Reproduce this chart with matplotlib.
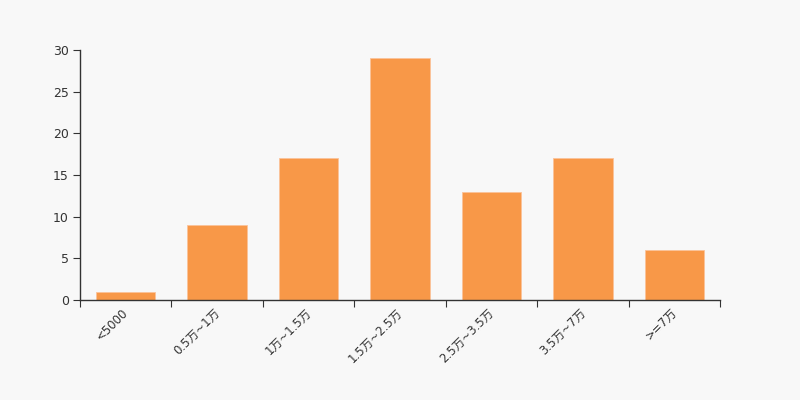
import matplotlib
matplotlib.use("Agg")
import matplotlib.pyplot as plt
import matplotlib.transforms as mtransforms
import numpy as np

plt.rcParams['font.family'] = ['DejaVu Sans', 'Noto Sans CJK SC']

categories = ["<5000", "0.5万~1万", "1万~1.5万", "1.5万~2.5万", "2.5万~3.5万", "3.5万~7万", ">=7万"]
values = [1, 9, 17, 29, 13, 17, 6]
yticks = [0, 5, 10, 15, 20, 25, 30]

bg = "#f8f8f8"
fig = plt.figure(figsize=(8, 4), dpi=100, facecolor=bg)
ax = fig.add_axes([80/800, 1-300/400, 640/800, 250/400])
ax.set_facecolor(bg)
x = np.arange(len(categories))
ax.bar(x, values, width=0.65, color="#f89848", edgecolor="#fbc39a", linewidth=0.6)
ax.set_xlim(-0.5, len(categories) - 0.5)
ax.set_ylim(0, 30)
ax.set_yticks(yticks)
ax.set_yticklabels([str(t) for t in yticks], fontsize=9, color="#333333")
ax.set_xticks(np.arange(len(categories) + 1) - 0.5)
ax.set_xticklabels([""] * (len(categories) + 1))
base = ax.get_xaxis_transform()
offset = mtransforms.ScaledTranslation(-4/100, -6/100, fig.dpi_scale_trans)
for xi, lab in zip(x, categories):
    ax.text(xi, 0, lab, transform=base + offset, rotation=45, ha="right", va="top",
            rotation_mode="anchor", fontsize=8.5, color="#333333", clip_on=False)
ax.tick_params(axis="x", which="major", length=5, color="#333333")
ax.tick_params(axis="y", length=5, color="#333333", pad=3)
for s in ["top", "right"]:
    ax.spines[s].set_visible(False)
for s in ["left", "bottom"]:
    ax.spines[s].set_color("#333333")
    ax.spines[s].set_linewidth(1)
fig.savefig("out.png", dpi=100, facecolor=bg)
